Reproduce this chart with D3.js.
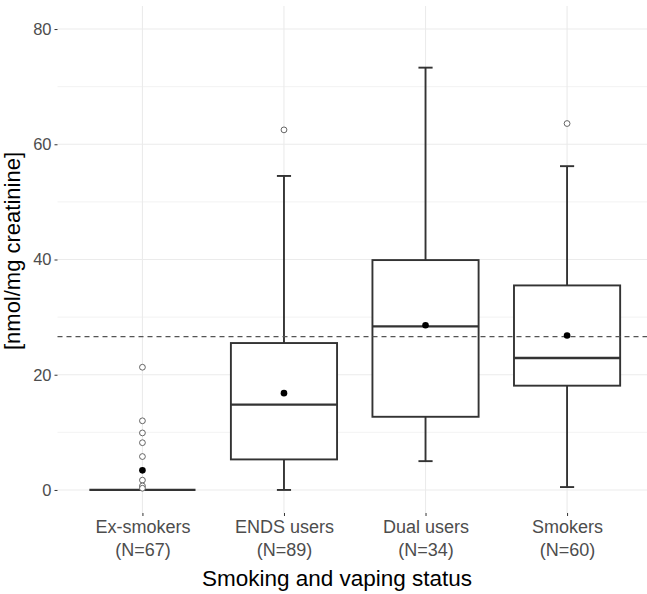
<!DOCTYPE html>
<html>
<head>
<meta charset="utf-8">
<script src="https://cdn.jsdelivr.net/npm/d3@7"></script>
<style>
  html, body { margin: 0; padding: 0; background: #fff; }
  svg { display: block; font-family: "Liberation Sans", Arial, sans-serif; }
</style>
</head>
<body>
<div id="chart"></div>
<script>
// ---- data ----
const categories = ["Ex-smokers", "ENDS users", "Dual users", "Smokers"];
const nLabels = ["(N=67)", "(N=89)", "(N=34)", "(N=60)"];
const whiskerLow  = [0,    0,    5.0,  0.5];
const q1          = [0,    5.3,  12.7, 18.1];
const medians     = [0,    14.8, 28.4, 22.9];
const q3          = [0,    25.5, 39.9, 35.5];
const whiskerHigh = [0,    54.5, 73.3, 56.2];
const means       = [3.4,  16.8, 28.6, 26.8];
const outliers = [
  [21.3, 12.0, 9.9, 8.2, 5.8, 1.7, 0.7, 0.3],
  [62.5],
  [],
  [63.6]
];
const overallMean = 26.6;
const yTicks = [0, 20, 40, 60, 80];
const yMinor = [10, 30, 50, 70];
const xTitle = "Smoking and vaping status";
const yTitle = "[nmol/mg creatinine]";

// ---- layout ----
const W = 647, H = 594;
const panel = { left: 57.5, right: 652, top: 6, bottom: 513 };

const svg = d3.select("#chart").append("svg")
  .attr("width", W).attr("height", H);

const x = d3.scalePoint().domain(categories)
  .range([panel.left, panel.right]).padding(0.6);
const step = x.step();
const y = d3.scaleLinear().domain([-4, 84]).range([panel.bottom, panel.top]);

const grid = svg.append("g");
// minor horizontal gridlines
grid.selectAll("line.minor").data(yMinor).join("line")
  .attr("x1", panel.left).attr("x2", panel.right)
  .attr("y1", d => y(d)).attr("y2", d => y(d))
  .attr("stroke", "#efefef").attr("stroke-width", 0.8);
// major horizontal gridlines
grid.selectAll("line.major").data(yTicks).join("line")
  .attr("x1", panel.left).attr("x2", panel.right)
  .attr("y1", d => y(d)).attr("y2", d => y(d))
  .attr("stroke", "#ebebeb").attr("stroke-width", 1.1);
// vertical gridlines
grid.selectAll("line.vert").data(categories).join("line")
  .attr("x1", d => x(d)).attr("x2", d => x(d))
  .attr("y1", panel.top).attr("y2", panel.bottom)
  .attr("stroke", "#ebebeb").attr("stroke-width", 1.1);

// y axis
const yAxis = svg.append("g")
  .attr("transform", `translate(${panel.left},0)`)
  .call(d3.axisLeft(y).tickValues(yTicks).tickSize(3).tickPadding(3).tickFormat(d3.format("d")));
yAxis.select(".domain").remove();
yAxis.selectAll(".tick line").attr("stroke", "#333").attr("stroke-width", 1);
yAxis.selectAll(".tick text").attr("fill", "#4d4d4d")
  .style("font-size", "16.5px").style("font-family", "Liberation Sans, Arial, sans-serif");

// x axis
const xAxis = svg.append("g")
  .attr("transform", `translate(0,${panel.bottom})`)
  .call(d3.axisBottom(x).tickSize(3).tickFormat(""));
xAxis.select(".domain").remove();
xAxis.selectAll(".tick line").attr("stroke", "#333").attr("stroke-width", 1);
xAxis.selectAll(".tick").each(function(d, i) {
  const t = d3.select(this).append("text")
    .attr("fill", "#4d4d4d").attr("text-anchor", "middle")
    .style("font-size", "18px").style("font-family", "Liberation Sans, Arial, sans-serif");
  t.append("tspan").attr("x", 0).attr("y", 20).text(d);
  t.append("tspan").attr("x", 0).attr("y", 43).text(nLabels[i]);
});

// boxes
const boxW = step * 0.75;
const capW = step * 0.1;
const stroke = "#333333";
const sw = 1.9;
const boxes = svg.append("g");
categories.forEach((c, i) => {
  const cx = x(c);
  const g = boxes.append("g");
  // whiskers
  g.append("line").attr("x1", cx).attr("x2", cx)
    .attr("y1", y(q3[i])).attr("y2", y(whiskerHigh[i]))
    .attr("stroke", stroke).attr("stroke-width", sw);
  g.append("line").attr("x1", cx).attr("x2", cx)
    .attr("y1", y(q1[i])).attr("y2", y(whiskerLow[i]))
    .attr("stroke", stroke).attr("stroke-width", sw);
  // caps
  [whiskerHigh[i], whiskerLow[i]].forEach(v => {
    g.append("line").attr("x1", cx - capW / 2).attr("x2", cx + capW / 2)
      .attr("y1", y(v)).attr("y2", y(v))
      .attr("stroke", stroke).attr("stroke-width", sw);
  });
  // box
  g.append("rect").attr("x", cx - boxW / 2).attr("width", boxW)
    .attr("y", y(q3[i])).attr("height", Math.max(0, y(q1[i]) - y(q3[i])))
    .attr("fill", "#fff").attr("stroke", stroke).attr("stroke-width", sw);
  // median
  g.append("line").attr("x1", cx - boxW / 2).attr("x2", cx + boxW / 2)
    .attr("y1", y(medians[i])).attr("y2", y(medians[i]))
    .attr("stroke", stroke).attr("stroke-width", sw + 0.4);
  // outliers
  g.selectAll("circle.out").data(outliers[i]).join("circle")
    .attr("cx", cx).attr("cy", d => y(d)).attr("r", 2.9)
    .attr("fill", "#fff").attr("stroke", "#555").attr("stroke-width", 0.9);
});

// overall mean dashed line
svg.append("line")
  .attr("x1", panel.left).attr("x2", panel.right)
  .attr("y1", y(overallMean)).attr("y2", y(overallMean))
  .attr("stroke", "#555").attr("stroke-width", 1.3)
  .attr("stroke-dasharray", "5,4");

// means
svg.append("g").selectAll("circle").data(categories).join("circle")
  .attr("cx", d => x(d)).attr("cy", (d, i) => y(means[i])).attr("r", 3.3)
  .attr("fill", "#000");

// axis titles
svg.append("text")
  .attr("x", 337).attr("y", 586)
  .attr("text-anchor", "middle").attr("fill", "#000")
  .style("font-size", "22.5px")
  .text(xTitle);
svg.append("text")
  .attr("transform", "translate(19.5,251) rotate(-90)")
  .attr("text-anchor", "middle").attr("fill", "#000")
  .style("font-size", "22px")
  .text(yTitle);
</script>
</body>
</html>
